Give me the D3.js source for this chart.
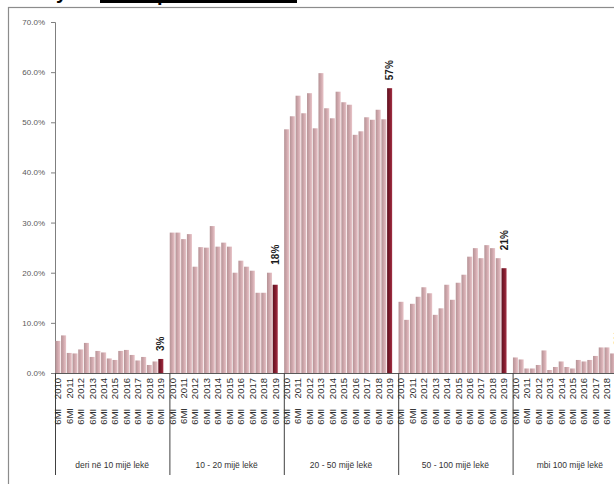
<!DOCTYPE html>
<html>
<head>
<meta charset="utf-8">
<script src="https://cdn.jsdelivr.net/npm/d3@7/dist/d3.min.js"></script>
<style>
  html, body { margin: 0; padding: 0; background: #fff; }
  svg { display: block; font-family: "Liberation Sans", Arial, sans-serif; }
</style>
</head>
<body>
<svg id="chart" width="614" height="484"></svg>
<script>
// Deposit size groups and half-year periods
const groups = ["deri në 10 mijë lekë", "10 - 20 mijë lekë", "20 - 50 mijë lekë", "50 - 100 mijë lekë", "mbi 100 mijë lekë"];
const periods = ["6MI 2010", "6MII 2010", "6MI 2011", "6MII 2011", "6MI 2012", "6MII 2012", "6MI 2013", "6MII 2013",
  "6MI 2014", "6MII 2014", "6MI 2015", "6MII 2015", "6MI 2016", "6MII 2016", "6MI 2017", "6MII 2017",
  "6MI 2018", "6MII 2018", "6MI 2019"];
const tickLabels = ["6MI 2010", "6MI 2011", "6MI 2012", "6MI 2013", "6MI 2014", "6MI 2015", "6MI 2016", "6MI 2017", "6MI 2018", "6MI 2019"];
const yTicks = [0, 10, 20, 30, 40, 50, 60, 70];

// Share (%) per group, one value per period
const shareUpTo10 = [6.4, 7.5, 4.0, 3.9, 4.7, 6.0, 3.2, 4.4, 4.1, 2.9, 2.6, 4.4, 4.6, 3.6, 2.5, 3.2, 1.6, 2.3, 2.8];
const share10to20 = [28.0, 28.0, 26.7, 27.7, 21.2, 25.1, 25.0, 29.3, 25.2, 26.0, 25.2, 20.0, 22.4, 21.2, 20.4, 16.0, 16.0, 20.0, 17.6];
const share20to50 = [48.6, 51.2, 55.3, 51.8, 55.8, 48.8, 59.8, 52.8, 50.8, 56.1, 54.0, 53.5, 47.5, 48.2, 51.0, 50.5, 52.5, 50.6, 56.8];
const share50to100 = [14.2, 10.6, 13.8, 15.2, 17.1, 15.9, 11.6, 12.9, 17.6, 14.6, 18.0, 19.6, 23.2, 24.9, 22.9, 25.5, 24.9, 22.9, 20.9];
const shareOver100 = [3.1, 2.7, 0.9, 0.9, 1.6, 4.5, 0.6, 1.2, 2.3, 1.2, 0.9, 2.6, 2.3, 2.6, 3.4, 5.1, 5.1, 3.9, 3.0];
const seriesByGroup = [shareUpTo10, share10to20, share20to50, share50to100, shareOver100];

const svg = d3.select("#chart");

// Frame around the chart area
svg.append("rect")
  .attr("x", 8.5).attr("y", 7.5).attr("width", 700).attr("height", 600)
  .attr("fill", "none").attr("stroke", "#8c8c8c").attr("stroke-width", 1.2);

// Heading (runs off the top edge)
svg.append("text").attr("x", 56).attr("y", -1)
  .attr("font-size", 20).attr("font-weight", "bold").attr("fill", "#000").text("y");
svg.append("rect").attr("x", 100).attr("y", 0).attr("width", 197).attr("height", 3).attr("fill", "#000");
svg.append("text").attr("x", 157).attr("y", 1)
  .attr("font-size", 20).attr("font-weight", "bold").attr("fill", "#000").text("p");

const left = 55, zeroY = 373, topY = 22;
const y = d3.scaleLinear().domain([0, 70]).range([zeroY, topY]);

// Each group reserves one empty slot after its last period
const x0 = d3.scaleBand().domain(groups).range([left, left + 5 * 114.4]).padding(0);
const slotCount = periods.length + 1;
const x1 = d3.scaleBand().domain(periods)
  .range([0, x0.bandwidth() * periods.length / slotCount])
  .paddingInner(0.12).paddingOuter(0.06);

const defs = svg.append("defs");
const light = defs.append("linearGradient").attr("id", "barLight").attr("x1", 0).attr("x2", 1).attr("y1", 0).attr("y2", 0);
light.append("stop").attr("offset", "0%").attr("stop-color", "#b59396");
light.append("stop").attr("offset", "50%").attr("stop-color", "#cfa7ac");
light.append("stop").attr("offset", "100%").attr("stop-color", "#e9c5c9");
const dark = defs.append("linearGradient").attr("id", "barDark").attr("x1", 0).attr("x2", 1).attr("y1", 0).attr("y2", 0);
dark.append("stop").attr("offset", "0%").attr("stop-color", "#5e1220");
dark.append("stop").attr("offset", "60%").attr("stop-color", "#861d2f");
dark.append("stop").attr("offset", "100%").attr("stop-color", "#a33246");

// Y axis
const yAxis = d3.axisLeft(y).tickValues(yTicks).tickSize(4).tickFormat(d => d3.format(".1%")(d / 100));
const yg = svg.append("g").attr("transform", `translate(${left},0)`).call(yAxis);
yg.select(".domain").attr("stroke", "#7f7f7f");
yg.selectAll(".tick line").attr("stroke", "#7f7f7f");
yg.selectAll(".tick text").attr("font-size", 8).attr("fill", "#595959").attr("x", -10)
  .attr("font-family", "'Liberation Sans', Arial, sans-serif");

// Bars
const barData = [];
groups.forEach((g, gi) => {
  seriesByGroup[gi].forEach((v, pi) => barData.push({ group: g, period: periods[pi], value: v, last: pi === periods.length - 1 }));
});
svg.append("g").selectAll("rect").data(barData).join("rect")
  .attr("x", d => x0(d.group) + x1(d.period))
  .attr("y", d => y(d.value))
  .attr("width", x1.bandwidth())
  .attr("height", d => zeroY - y(d.value))
  .attr("fill", d => d.last ? "url(#barDark)" : "url(#barLight)");

// Category axis line and group dividers
svg.append("line").attr("x1", left).attr("x2", 640).attr("y1", zeroY + 0.5).attr("y2", zeroY + 0.5)
  .attr("stroke", "#595959").attr("stroke-width", 1);
svg.append("g").selectAll("line").data(groups.concat(["end"])).join("line")
  .attr("x1", (d, i) => left + i * x0.step() + 0.5)
  .attr("x2", (d, i) => left + i * x0.step() + 0.5)
  .attr("y1", zeroY).attr("y2", 475)
  .attr("stroke", "#404040").attr("stroke-width", 1);

// Period labels (every other period)
const tickData = [];
groups.forEach(g => tickLabels.forEach(t => tickData.push({ group: g, label: t })));
svg.append("g").selectAll("text").data(tickData).join("text")
  .attr("transform", d => `translate(${x0(d.group) + x1(d.label) + x1.bandwidth() / 2},378) rotate(-90)`)
  .attr("text-anchor", "end").attr("dy", "0.35em")
  .attr("font-size", 9.5).attr("fill", "#2b2b2b")
  .attr("word-spacing", 7)
  .text(d => d.label);

// Group labels
svg.append("g").selectAll("text").data(groups).join("text")
  .attr("x", d => x0(d) + x0.bandwidth() / 2)
  .attr("y", 468)
  .attr("text-anchor", "middle").attr("font-size", 8.5).attr("fill", "#333")
  .text(d => d);

// Value labels on the latest period, set above the taller of the last two bars
svg.append("g").selectAll("text").data(groups).join("text")
  .attr("transform", (g, gi) => {
    const vals = seriesByGroup[gi];
    const n = vals.length;
    const cx = x0(g) + x1(periods[n - 1]) + x1.bandwidth() / 2;
    const top = y(Math.max(vals[n - 1], vals[n - 2])) - 8;
    return `translate(${cx},${top}) rotate(-90)`;
  })
  .attr("text-anchor", "start").attr("dy", "0.35em")
  .attr("font-size", 10).attr("font-weight", "bold").attr("fill", "#1a1a1a")
  .text((g, gi) => d3.format(".0%")(seriesByGroup[gi][seriesByGroup[gi].length - 1] / 100));
</script>
</body>
</html>
